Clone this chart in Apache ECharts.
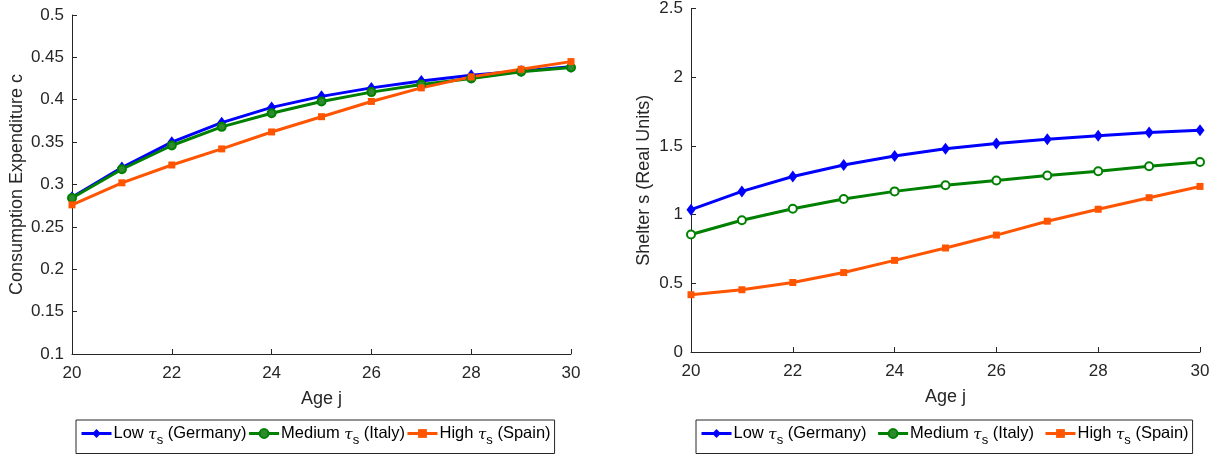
<!DOCTYPE html>
<html>
<head>
<meta charset="utf-8">
<script src="https://cdn.jsdelivr.net/npm/echarts@6/dist/echarts.min.js"></script>
<style>
html,body{margin:0;padding:0;background:#fff;}
#c{width:1213px;height:455px;}
</style>
</head>
<body>
<div id="c"></div>
<script>
var ages = [20, 21, 22, 23, 24, 25, 26, 27, 28, 29, 30];
var seriesNames = ['Low', 'Medium', 'High'];
var countries = ['Germany', 'Italy', 'Spain'];
var consLow  = [0.285, 0.320, 0.350, 0.373, 0.391, 0.404, 0.414, 0.422, 0.429, 0.434, 0.439];
var consMed  = [0.284, 0.318, 0.346, 0.368, 0.384, 0.398, 0.409, 0.418, 0.425, 0.433, 0.438];
var consHigh = [0.276, 0.302, 0.323, 0.342, 0.362, 0.380, 0.398, 0.414, 0.427, 0.436, 0.445];
var shelterLow  = [1.036, 1.169, 1.277, 1.361, 1.427, 1.480, 1.518, 1.549, 1.573, 1.598, 1.614];
var shelterMed  = [0.855, 0.959, 1.043, 1.113, 1.169, 1.214, 1.248, 1.284, 1.316, 1.352, 1.383];
var shelterHigh = [0.417, 0.453, 0.506, 0.578, 0.667, 0.757, 0.851, 0.952, 1.039, 1.123, 1.205];
var yTitleLeft = 'Consumption Expenditure c';
var yTitleRight = 'Shelter s (Real Units)';
var xTitle = 'Age j';

var colors = ['#0000ff', '#008000', '#ff5500'];
var FONT = '"Liberation Sans", Arial, Helvetica, sans-serif';
var AX = '#262626';

function pairs(v) { return ages.map(function (a, i) { return [a, v[i]]; }); }

function mkSeries(name, data, idx, k) {
  var sym = ['diamond', 'circle', 'rect'][k];
  var size = [[9, 12], 8, 7][k];
  var item = k === 1
    ? { color: idx === 0 ? '#2f8a2f' : '#ffffff', borderColor: colors[k], borderWidth: 2 }
    : { color: colors[k] };
  return {
    type: 'line', name: name, xAxisIndex: idx, yAxisIndex: idx,
    data: pairs(data), symbol: sym, symbolSize: size, showSymbol: true,
    lineStyle: { color: colors[k], width: 3 },
    itemStyle: item, color: colors[k],
    emphasis: { disabled: true }, animation: false
  };
}

function xAxis(idx) {
  return {
    type: 'value', gridIndex: idx, min: 20, max: 30, interval: 2,
    name: xTitle, nameLocation: 'middle', nameGap: 36,
    nameTextStyle: { fontFamily: FONT, fontSize: 18, color: AX },
    axisLine: { show: true, lineStyle: { color: AX, width: 1 } },
    axisTick: { show: true, inside: true, length: 5, lineStyle: { color: AX } },
    axisLabel: { fontFamily: FONT, fontSize: 17, color: AX, margin: 11 },
    splitLine: { show: false }
  };
}

function yAxis(idx, min, max, interval, title, gap) {
  return {
    type: 'value', gridIndex: idx, min: min, max: max, interval: interval,
    name: title, nameLocation: 'middle', nameGap: gap,
    nameTextStyle: { fontFamily: FONT, fontSize: 18, color: AX },
    axisLine: { show: true, lineStyle: { color: AX, width: 1 } },
    axisTick: { show: true, inside: true, length: 5, lineStyle: { color: AX } },
    axisLabel: {
      fontFamily: FONT, fontSize: 17, color: AX, margin: 8,
      formatter: function (v) { return String(parseFloat(v.toFixed(2))); }
    },
    splitLine: { show: false }
  };
}

var rich = {
  n: { fontFamily: FONT, fontSize: 16.5, color: '#000' },
  t: { fontFamily: '"DejaVu Serif", serif', fontStyle: 'italic', fontSize: 15, color: '#000', padding: [3, 0, 0, 0] },
  s: { fontFamily: FONT, fontSize: 13, color: '#000', padding: [13, 0, 0, 0] }
};
function legendFmt(name) {
  var i = seriesNames.indexOf(name);
  return '{n|' + name + ' }{t|τ}{s|s}{n| (' + countries[i] + ')}';
}
function legend(left, gap) {
  return {
    data: seriesNames, left: left, top: 420, orient: 'horizontal',
    itemWidth: 30, itemHeight: 11, itemGap: gap,
    padding: [5, 4, 7, 4],
    borderColor: AX, borderWidth: 1, backgroundColor: '#fff',
    lineStyle: { width: 3 },
    formatter: legendFmt,
    textStyle: { rich: rich, padding: [0, 0, 0, -3] },
    selectedMode: false
  };
}

var chart = echarts.init(document.getElementById('c'), null, { renderer: 'canvas' });
chart.setOption({
  animation: false,
  grid: [
    { left: 72, right: 642, top: 15, bottom: 101 },
    { left: 691, right: 13, top: 6, bottom: 103 }
  ],
  xAxis: [xAxis(0), xAxis(1)],
  yAxis: [
    yAxis(0, 0.1, 0.5, 0.05, yTitleLeft, 46),
    yAxis(1, 0, 2.5, 0.5, yTitleRight, 38)
  ],
  legend: [legend(76, 1), legend(696, 10)],
  series: [
    mkSeries(seriesNames[0], consLow, 0, 0),
    mkSeries(seriesNames[1], consMed, 0, 1),
    mkSeries(seriesNames[2], consHigh, 0, 2),
    mkSeries(seriesNames[0], shelterLow, 1, 0),
    mkSeries(seriesNames[1], shelterMed, 1, 1),
    mkSeries(seriesNames[2], shelterHigh, 1, 2)
  ]
});
</script>
</body>
</html>
